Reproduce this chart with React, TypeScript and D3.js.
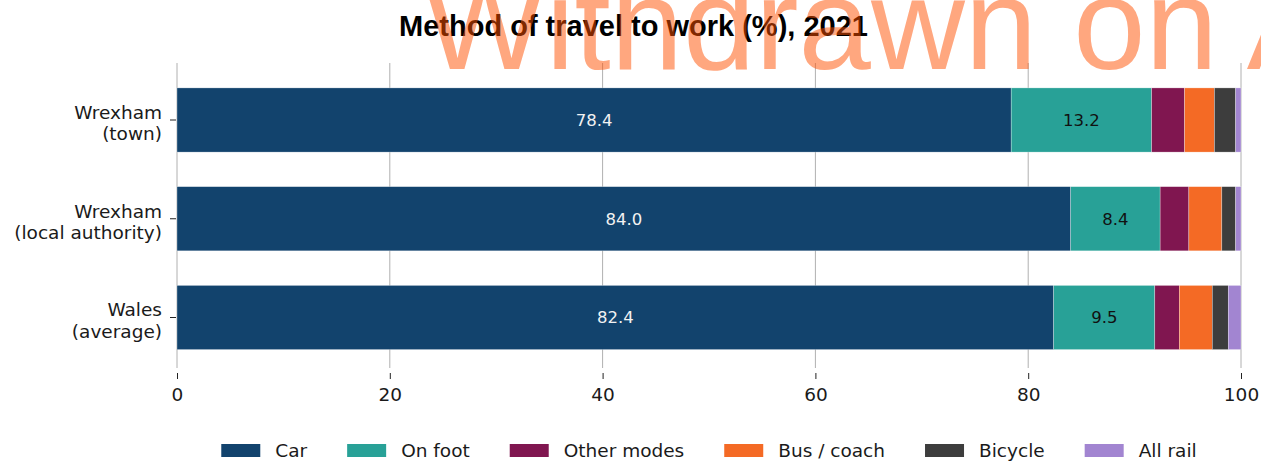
import React, { useEffect, useRef } from 'react';
import * as d3 from 'd3';

// Areas (y categories), travel modes and their colours
const areas = ['Wrexham\n(town)', 'Wrexham\n(local authority)', 'Wales\n(average)'];
const modes = ['Car', 'On foot', 'Other modes', 'Bus / coach', 'Bicycle', 'All rail'];
const modeColours = ['#12436D', '#28A197', '#801650', '#F46A25', '#3D3D3D', '#A285D1'];

// Percentages per area, in the order of `areas`
const car = [78.4, 84.0, 82.4];
const onFoot = [13.2, 8.4, 9.5];
const otherModes = [3.1, 2.7, 2.3];
const busCoach = [2.8, 3.1, 3.1];
const bicycle = [2.0, 1.3, 1.5];
const allRail = [0.5, 0.5, 1.2];

const xTicks = [0, 20, 40, 60, 80, 100];

const App: React.FC = () => {
  const svgRef = useRef<SVGSVGElement | null>(null);

  useEffect(() => {
    document.body.style.margin = '0';
    const svg = d3.select(svgRef.current);
    svg.selectAll('*').remove();

    const sans = 'DejaVu Sans, Verdana, sans-serif';
    const plotTop = 63;
    const plotBottom = 368;

    const x = d3.scaleLinear().domain([0, 100]).range([177, 1241]);
    const y = d3.scaleLinear().domain([0, areas.length - 1]).range([120, 317.5]);
    const barH = 0.65 * (y(1) - y(0));

    const series = [car, onFoot, otherModes, busCoach, bicycle, allRail];
    const rows = areas.map((a, i) => {
      const r: Record<string, number | string> = { area: a, idx: i };
      modes.forEach((m, j) => { r[m] = series[j][i]; });
      return r;
    });
    const stacked = d3.stack<Record<string, number | string>>().keys(modes)(rows);

    // Grid lines
    svg.append('g')
      .selectAll('line')
      .data(xTicks)
      .enter()
      .append('line')
      .attr('x1', d => x(d))
      .attr('x2', d => x(d))
      .attr('y1', plotTop)
      .attr('y2', plotBottom)
      .attr('stroke', '#b0b0b0')
      .attr('stroke-width', 1);

    // Bars
    const layer = svg.append('g')
      .selectAll('g')
      .data(stacked)
      .enter()
      .append('g')
      .attr('fill', (d, i) => modeColours[i]);

    layer.selectAll('rect')
      .data(d => d)
      .enter()
      .append('rect')
      .attr('x', d => x(d[0]))
      .attr('y', (d, i) => y(i) - barH / 2)
      .attr('width', d => x(d[1]) - x(d[0]))
      .attr('height', barH)
      .attr('stroke', '#ffffff')
      .attr('stroke-width', 0.5)
      .attr('stroke-opacity', 0.6);

    // Value labels on car and on foot
    const labelColours = ['#f2f2f2', '#111111'];
    stacked.slice(0, 2).forEach((s, k) => {
      svg.append('g')
        .selectAll('text')
        .data(s)
        .enter()
        .append('text')
        .attr('x', d => x((d[0] + d[1]) / 2))
        .attr('y', (d, i) => y(i))
        .attr('dy', '0.36em')
        .attr('text-anchor', 'middle')
        .attr('font-family', sans)
        .attr('font-size', 16.5)
        .attr('fill', labelColours[k])
        .text(d => (d[1] - d[0]).toFixed(1));
    });

    // X axis
    const xAxis = svg.append('g')
      .attr('transform', 'translate(0,373)')
      .call(d3.axisBottom(x).tickValues(xTicks).tickSize(6).tickPadding(9).tickFormat(d => String(d)));
    xAxis.select('.domain').remove();
    xAxis.selectAll('line').attr('stroke', '#222');
    xAxis.selectAll('text')
      .attr('font-family', sans)
      .attr('font-size', 18.5)
      .attr('fill', '#1a1a1a');

    // Y labels
    const yl = svg.append('g');
    areas.forEach((a, i) => {
      yl.append('line')
        .attr('x1', 170)
        .attr('x2', 176)
        .attr('y1', y(i))
        .attr('y2', y(i))
        .attr('stroke', '#222');
      const lines = a.split('\n');
      const t = yl.append('text')
        .attr('text-anchor', 'end')
        .attr('font-family', sans)
        .attr('font-size', 18.5)
        .attr('fill', '#1a1a1a');
      lines.forEach((ln, j) => {
        t.append('tspan')
          .attr('x', 162)
          .attr('y', y(i) + (j - (lines.length - 1) / 2) * 21.5 + 9.5)
          .text(ln);
      });
    });

    // Legend
    const legend = svg.append('g');
    const items = modes.map((m, i) => {
      const g = legend.append('g');
      g.append('rect')
        .attr('x', 0)
        .attr('y', 444)
        .attr('width', 39)
        .attr('height', 13)
        .attr('fill', modeColours[i]);
      const txt = g.append('text')
        .attr('x', 54)
        .attr('y', 457)
        .attr('font-family', sans)
        .attr('font-size', 18.5)
        .attr('fill', '#1a1a1a')
        .text(m);
      const w = (txt.node() as SVGTextElement).getComputedTextLength();
      return { g, w: 54 + w };
    });
    const gap = 40;
    const total = d3.sum(items, d => d.w) + gap * (items.length - 1);
    let cx = (x(0) + x(100)) / 2 - total / 2;
    items.forEach(it => {
      it.g.attr('transform', `translate(${cx},0)`);
      cx += it.w + gap;
    });

    // Title
    svg.append('text')
      .attr('x', 633.5)
      .attr('y', 36)
      .attr('text-anchor', 'middle')
      .attr('font-family', 'Liberation Sans, Arial, sans-serif')
      .attr('font-weight', 'bold')
      .attr('font-size', 29)
      .attr('fill', '#000')
      .text('Method of travel to work (%), 2021');

    // Watermark
    svg.append('text')
      .attr('x', 423)
      .attr('y', 69)
      .attr('font-family', 'Liberation Sans, Arial, sans-serif')
      .attr('font-size', 130)
      .attr('fill', '#ff4f00')
      .attr('fill-opacity', 0.5)
      .text('Withdrawn on A');
  }, []);

  return (
    <svg
      ref={svgRef}
      width={1261}
      height={461}
      style={{ position: 'absolute', left: 0, top: 0, background: '#fff' }}
    ></svg>
  );
};

export default App;
